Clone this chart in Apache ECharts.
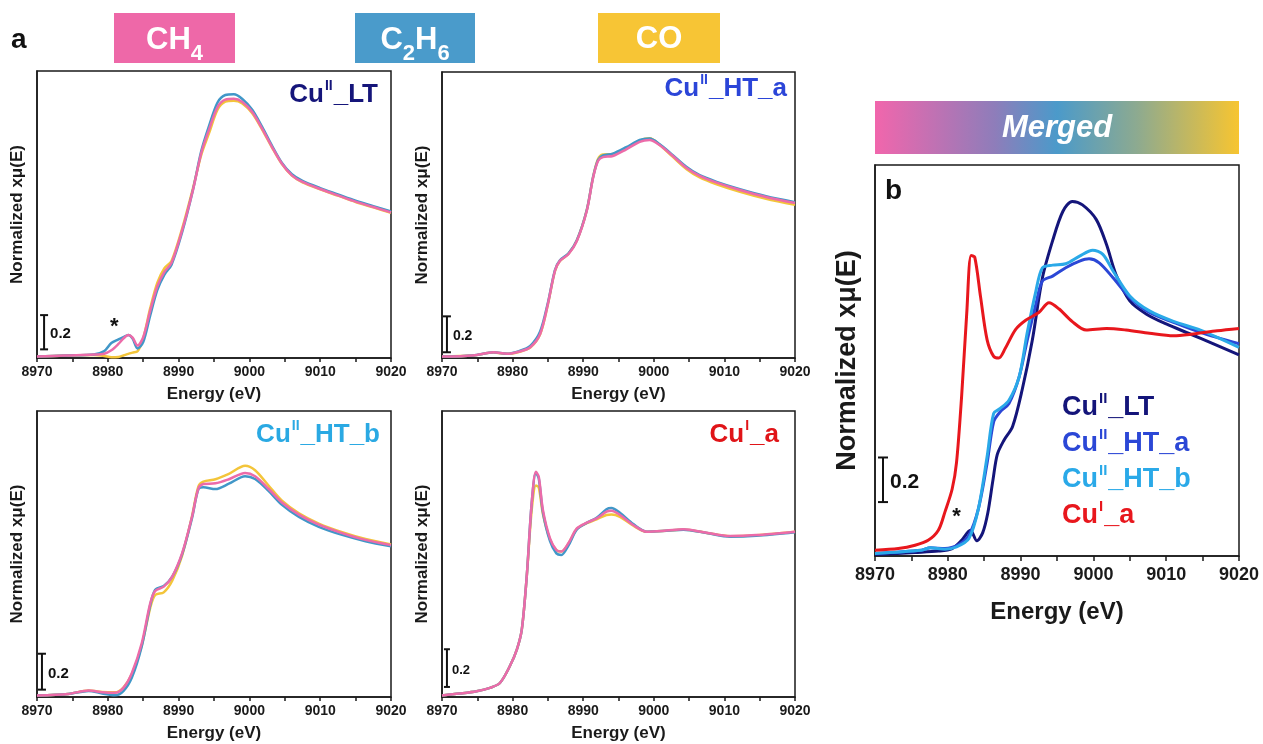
<!DOCTYPE html>
<html><head><meta charset="utf-8">
<script src="https://cdn.jsdelivr.net/npm/echarts@6/dist/echarts.min.js"></script>
<style>html,body{margin:0;padding:0;background:#fff}#c{width:1263px;height:744px}</style>
</head><body><div id="c"></div>
<script>
// ---------- DATA ----------
const E_MIN = 8970, E_MAX = 9020;
// Panel 1: Cu(II)_LT
const E1 = [8970, 8974, 8978, 8979.5, 8980.5, 8981.5, 8982.2, 8982.9, 8983.5, 8984.2, 8985, 8986, 8987, 8988, 8989, 8990.5, 8992, 8993.2, 8994.3, 8995.5, 8996.6, 8997.8, 8999, 9000.4, 9001.8, 9003.2, 9004.6, 9006, 9007.5, 9010, 9012.5, 9015, 9017.5, 9020];
const CH4_1 = [0.0, 0.006, 0.011, 0.016, 0.035, 0.07, 0.1, 0.12, 0.105, 0.061, 0.107, 0.256, 0.39, 0.47, 0.52, 0.70, 0.92, 1.13, 1.26, 1.385, 1.426, 1.431, 1.413, 1.357, 1.265, 1.163, 1.07, 1.006, 0.969, 0.93, 0.895, 0.86, 0.83, 0.80];
const C2H6_1 = [0.0, 0.006, 0.011, 0.03, 0.075, 0.095, 0.108, 0.12, 0.1, 0.045, 0.08, 0.23, 0.37, 0.455, 0.51, 0.69, 0.92, 1.14, 1.28, 1.41, 1.452, 1.456, 1.43, 1.37, 1.275, 1.17, 1.075, 1.012, 0.975, 0.935, 0.9, 0.865, 0.835, 0.805];
const CO_1 = [0.0, 0.006, 0.008, 0.003, -0.004, -0.002, 0.006, 0.015, 0.022, 0.03, 0.1, 0.27, 0.41, 0.49, 0.53, 0.71, 0.93, 1.12, 1.24, 1.37, 1.415, 1.42, 1.405, 1.35, 1.26, 1.16, 1.068, 1.004, 0.967, 0.928, 0.893, 0.858, 0.828, 0.798];
// Panel 2: Cu(II)_HT_a
const E2 = [8970, 8974.4, 8977.3, 8979.2, 8981, 8982.5, 8983.9, 8985, 8986, 8986.7, 8987.9, 8989.1, 8990.5, 8991.4, 8992.1, 8992.8, 8994.2, 8996.1, 8998, 8999.4, 9000.8, 9002.7, 9004.6, 9006.5, 9008.9, 9012.2, 9015.9, 9020];
const CH4_2 = [0, 0.006, 0.024, 0.015, 0.028, 0.052, 0.126, 0.293, 0.478, 0.533, 0.57, 0.644, 0.811, 0.996, 1.089, 1.111, 1.117, 1.154, 1.196, 1.206, 1.178, 1.117, 1.052, 1.006, 0.969, 0.928, 0.889, 0.855];
const C2H6_2 = [0, 0.006, 0.024, 0.016, 0.032, 0.06, 0.14, 0.30, 0.482, 0.536, 0.574, 0.648, 0.815, 1.0, 1.095, 1.12, 1.13, 1.166, 1.206, 1.214, 1.184, 1.122, 1.057, 1.01, 0.973, 0.932, 0.893, 0.86];
const CO_2 = [0, 0.006, 0.022, 0.015, 0.027, 0.05, 0.124, 0.29, 0.476, 0.532, 0.572, 0.646, 0.814, 1.0, 1.1, 1.125, 1.128, 1.16, 1.203, 1.216, 1.18, 1.112, 1.045, 0.998, 0.96, 0.918, 0.879, 0.845];
// Panel 3: Cu(II)_HT_b
const E3 = [8970, 8974.4, 8977.3, 8979.2, 8981, 8982.2, 8983.4, 8984.8, 8986, 8986.7, 8987.9, 8989.1, 8990.5, 8991.9, 8992.8, 8993.5, 8995.2, 8997.1, 8999.4, 9000.8, 9002.7, 9004.6, 9007, 9009.8, 9013.1, 9016.4, 9020];
const CH4_3 = [0, 0.009, 0.028, 0.019, 0.015, 0.043, 0.126, 0.293, 0.515, 0.583, 0.607, 0.663, 0.793, 0.996, 1.154, 1.178, 1.182, 1.205, 1.24, 1.222, 1.152, 1.075, 1.008, 0.952, 0.905, 0.867, 0.838];
const C2H6_3 = [0, 0.009, 0.026, 0.012, 0.002, 0.025, 0.1, 0.275, 0.505, 0.59, 0.61, 0.662, 0.788, 0.99, 1.15, 1.16, 1.15, 1.18, 1.222, 1.206, 1.14, 1.062, 0.995, 0.94, 0.895, 0.86, 0.832];
const CO_3 = [0, 0.009, 0.028, 0.02, 0.018, 0.045, 0.12, 0.28, 0.49, 0.56, 0.575, 0.64, 0.78, 1.0, 1.165, 1.192, 1.205, 1.235, 1.28, 1.255, 1.17, 1.085, 1.015, 0.958, 0.91, 0.872, 0.842];
// Panel 4: Cu(I)_a
const E4 = [8970, 8972.5, 8974.9, 8976.8, 8978.2, 8979.6, 8980.6, 8981.3, 8982, 8982.7, 8983.3, 8983.7, 8984.3, 8985.3, 8986.2, 8986.9, 8987.9, 8989.1, 8990.5, 8991.9, 8993.3, 8994, 8995.2, 8997.1, 8999, 9001.8, 9004.2, 9007.5, 9010.8, 9014.5, 9020];
const CH4_4 = [0, 0.011, 0.024, 0.043, 0.07, 0.163, 0.256, 0.367, 0.663, 1.07, 1.246, 1.22, 1.033, 0.876, 0.811, 0.802, 0.848, 0.931, 0.963, 0.987, 1.024, 1.03, 1.006, 0.95, 0.913, 0.919, 0.926, 0.907, 0.889, 0.894, 0.913];
const C2H6_4 = [0, 0.011, 0.024, 0.043, 0.07, 0.163, 0.256, 0.367, 0.663, 1.07, 1.24, 1.21, 1.02, 0.86, 0.792, 0.783, 0.835, 0.925, 0.962, 0.99, 1.038, 1.045, 1.018, 0.955, 0.913, 0.918, 0.924, 0.905, 0.885, 0.89, 0.91];
const CO_4 = [0, 0.011, 0.024, 0.043, 0.07, 0.163, 0.256, 0.367, 0.66, 1.03, 1.17, 1.16, 1.01, 0.87, 0.81, 0.802, 0.846, 0.928, 0.96, 0.982, 1.006, 1.008, 0.995, 0.946, 0.912, 0.918, 0.925, 0.906, 0.888, 0.893, 0.912];
// Panel b: merged
const E_LT = [8970, 8975.5, 8978.7, 8980.6, 8981.9, 8983.1, 8984.0, 8984.8, 8985.5, 8986.2, 8986.8, 8987.7, 8988.9, 8990.2, 8991.6, 8993.0, 8994.4, 8995.8, 8997.1, 8998.5, 9000.4, 9001.8, 9003.1, 9005.0, 9007.3, 9010.0, 9013.3, 9016.5, 9020];
const M_LT = [-0.009, 0.0, 0.006, 0.017, 0.052, 0.095, 0.05, 0.085, 0.17, 0.31, 0.42, 0.48, 0.54, 0.695, 0.908, 1.177, 1.336, 1.461, 1.504, 1.489, 1.426, 1.319, 1.191, 1.078, 1.021, 0.979, 0.936, 0.894, 0.847];
const E_HTA = [8970, 8976.4, 8977.6, 8979.6, 8981.5, 8982.9, 8984.2, 8985.4, 8986.3, 8987.2, 8988.4, 8989.8, 8990.9, 8992.1, 8993.0, 8994.4, 8996.2, 8998.1, 8999.4, 9000.8, 9002.7, 9005.0, 9007.7, 9011.0, 9014.7, 9020];
const M_HTA = [-0.004, 0.01, 0.02, 0.017, 0.034, 0.074, 0.187, 0.383, 0.56, 0.603, 0.638, 0.752, 0.908, 1.064, 1.163, 1.184, 1.22, 1.248, 1.258, 1.241, 1.177, 1.092, 1.028, 0.986, 0.943, 0.894];
const E_HTB = [8970, 8976.4, 8977.6, 8979.6, 8981.2, 8982.9, 8984.2, 8985.4, 8986.3, 8987.2, 8988.4, 8989.8, 8990.9, 8992.1, 8993.0, 8994.4, 8996.2, 8998.1, 8999.9, 9001.3, 9002.7, 9005.0, 9007.7, 9011.0, 9014.7, 9020];
const M_HTB = [-0.004, 0.01, 0.02, 0.014, 0.024, 0.06, 0.187, 0.411, 0.596, 0.617, 0.652, 0.752, 0.94, 1.12, 1.22, 1.231, 1.237, 1.27, 1.295, 1.277, 1.206, 1.099, 1.035, 0.99, 0.953, 0.879];
const E_CUI = [8970, 8973.2, 8975.5, 8977.3, 8978.7, 8979.6, 8980.6, 8981.2, 8981.9, 8982.6, 8983.2, 8983.7, 8984.5, 8985.4, 8986.3, 8987, 8987.9, 8989.3, 8990.7, 8992.5, 8993.9, 8995.3, 8997.1, 8999, 9001.8, 9004.5, 9007.7, 9011, 9013.7, 9017, 9020];
const M_CUI = [0.01, 0.017, 0.031, 0.052, 0.095, 0.173, 0.272, 0.386, 0.67, 1.024, 1.272, 1.265, 1.095, 0.911, 0.84, 0.833, 0.875, 0.955, 0.995, 1.028, 1.07, 1.043, 0.989, 0.953, 0.96, 0.953, 0.939, 0.928, 0.936, 0.95, 0.96];
// scale bars [energy, y0, y1] and asterisk marks [energy, y]
const BAR1 = [8971.0, 0.04, 0.23], BAR2 = [8970.7, 0.024, 0.224], BAR3 = [8970.7, 0.033, 0.233], BAR4 = [8970.7, 0.048, 0.258], BAR5 = [8971.1, 0.216, 0.407];
const STAR1 = [8980.9, 0.163], STAR5 = [8981.2, 0.152];

// ---------- STYLE ----------
const F = '"Liberation Sans", Arial, sans-serif';
const PINK = '#EC6BA9', BLUE = '#4197C8', YELLOW = '#F3C53A';
const C_LT = '#14157A', C_HTA = '#2B47D6', C_HTB = '#2AA9E8', C_CUI = '#E8171D';
const grids = [
  {left: 37, top: 71, width: 354, height: 287},
  {left: 442, top: 72, width: 353, height: 286},
  {left: 37, top: 411, width: 354, height: 286},
  {left: 442, top: 411, width: 353, height: 286},
  {left: 875, top: 165, width: 364, height: 391}
].map(g => Object.assign(g, {show: true, borderColor: '#1a1a1a', borderWidth: 1.5, backgroundColor: 'transparent'}));

function xAx(i, big) {
  return {gridIndex: i, type: 'value', min: E_MIN, max: E_MAX, interval: 5,
    name: 'Energy (eV)', nameLocation: 'middle', nameGap: big ? 44 : 28,
    nameTextStyle: {fontFamily: F, fontWeight: 'bold', fontSize: big ? 24 : 17, color: '#1a1a1a'},
    axisLine: {onZero: false, lineStyle: {color: '#1a1a1a', width: 1.5}},
    axisTick: {inside: false, length: big ? 5 : 4, lineStyle: {color: '#1a1a1a', width: 1.5}},
    axisLabel: {margin: big ? 10 : 7, fontFamily: F, fontWeight: 'bold', fontSize: big ? 18 : 14, color: '#1a1a1a',
      formatter: v => (v % 10 === 0 ? String(v) : '')},
    splitLine: {show: false}};
}
function yAx(i, big) {
  return {gridIndex: i, type: 'value', min: big ? -0.015 : -0.008, max: big ? 1.66 : 1.585,
    name: 'Normalized xμ(E)', nameLocation: 'middle', nameGap: big ? 14 : 11, nameRotate: 90,
    nameTextStyle: {fontFamily: F, fontWeight: 'bold', fontSize: big ? 27 : 17, color: '#1a1a1a'},
    axisLine: {onZero: false, lineStyle: {color: '#1a1a1a', width: 1.5}},
    axisTick: {show: false}, axisLabel: {show: false}, splitLine: {show: false}};
}
function zip(xs, ys) { return xs.map((x, i) => [x, ys[i]]); }
function line(g, xs, ys, color, w) {
  return {type: 'line', xAxisIndex: g, yAxisIndex: g, data: zip(xs, ys), symbol: 'none', showSymbol: false,
    smooth: 0.3, lineStyle: {color: color, width: w}, silent: true, animation: false, z: 3};
}
function scaleBar(g, bar, fs, cap) {
  return {type: 'custom', xAxisIndex: g, yAxisIndex: g, data: [bar], silent: true, animation: false, z: 5,
    renderItem: (p, api) => {
      const a = api.coord([api.value(0), api.value(1)]);
      const b = api.coord([api.value(0), api.value(2)]);
      const st = {stroke: '#111', lineWidth: 2};
      return {type: 'group', children: [
        {type: 'line', shape: {x1: a[0], y1: a[1], x2: b[0], y2: b[1]}, style: st},
        {type: 'line', shape: {x1: a[0] - cap, y1: a[1], x2: a[0] + cap, y2: a[1]}, style: st},
        {type: 'line', shape: {x1: b[0] - cap, y1: b[1], x2: b[0] + cap, y2: b[1]}, style: st},
        {type: 'text', x: a[0] + cap + 2, y: (a[1] + b[1]) / 2 + 2,
          style: {text: '0.2', font: 'bold ' + fs + 'px ' + F, fill: '#111', align: 'left', verticalAlign: 'middle'}}
      ]};
    }};
}
function star(g, pt, fs) {
  return {type: 'custom', xAxisIndex: g, yAxisIndex: g, data: [pt], silent: true, animation: false, z: 5,
    renderItem: (p, api) => {
      const a = api.coord([api.value(0), api.value(1)]);
      return {type: 'text', x: a[0], y: a[1],
        style: {text: '*', font: 'bold ' + fs + 'px ' + F, fill: '#111', align: 'center', verticalAlign: 'middle'}};
    }};
}
function cuLabel(x, y, sup, rest, color, fs, align) {
  return {type: 'text', x: x, y: y, z: 10, silent: true,
    style: {text: '{m|Cu}{s|' + sup + '}{m|' + rest + '}', align: align, verticalAlign: 'middle',
      rich: {m: {font: 'bold ' + fs + 'px ' + F, fill: color, lineHeight: fs * 1.2},
             s: {font: 'bold ' + Math.round(fs * 0.55) + 'px ' + F, fill: color, verticalAlign: 'top', lineHeight: fs * 1.2, padding: [0, 1, 0, 1]}}}};
}
function box(x, y, w, h, fill) {
  return {type: 'rect', shape: {x: x, y: y, width: w, height: h}, style: {fill: fill}, silent: true, z: 1};
}
function head(cx, cy, main, sub) {
  const t = sub ? main.replace(/(\d)/g, '{s|$1}').replace(/^([^{]+)/, '{m|$1}').replace(/\}([A-Za-z]+)/g, '}{m|$1}') : '{m|' + main + '}';
  return {type: 'text', x: cx, y: sub ? cy + 6 : cy, z: 2, silent: true,
    style: {text: t, align: 'center', verticalAlign: 'middle',
      rich: {m: {font: 'bold 31px ' + F, fill: '#fff', lineHeight: 28, verticalAlign: 'top'},
             s: {font: 'bold 22px ' + F, fill: '#fff', verticalAlign: 'bottom', lineHeight: 40}}}};
}

const series = [
  line(0, E1, CO_1, YELLOW, 2.5), line(0, E1, C2H6_1, BLUE, 2.5), line(0, E1, CH4_1, PINK, 2.5),
  line(1, E2, CO_2, YELLOW, 2.5), line(1, E2, C2H6_2, BLUE, 2.5), line(1, E2, CH4_2, PINK, 2.5),
  line(2, E3, CO_3, YELLOW, 2.5), line(2, E3, C2H6_3, BLUE, 2.5), line(2, E3, CH4_3, PINK, 2.5),
  line(3, E4, CO_4, YELLOW, 2.5), line(3, E4, C2H6_4, BLUE, 2.5), line(3, E4, CH4_4, PINK, 2.5),
  line(4, E_LT, M_LT, C_LT, 3), line(4, E_HTA, M_HTA, C_HTA, 3), line(4, E_HTB, M_HTB, C_HTB, 3), line(4, E_CUI, M_CUI, C_CUI, 3),
  scaleBar(0, BAR1, 15, 4), scaleBar(1, BAR2, 14, 4), scaleBar(2, BAR3, 15, 4), scaleBar(3, BAR4, 13, 3), scaleBar(4, BAR5, 21, 5),
  star(0, STAR1, 22), star(4, STAR5, 22)
];

const graphic = [
  box(114, 13, 121, 50, '#EE68A8'), box(355, 13, 120, 50, '#4A9BCB'), box(598, 13, 122, 50, '#F7C535'),
  head(174.5, 39, 'CH4', true), head(415, 39, 'C2H6', true), head(659, 38, 'CO', false),
  {type: 'rect', shape: {x: 875, y: 101, width: 364, height: 53}, silent: true, z: 1,
    style: {fill: new echarts.graphic.LinearGradient(0, 0, 1, 0, [
      {offset: 0, color: '#F166AC'}, {offset: 0.33, color: '#8E7DBA'}, {offset: 0.5, color: '#4B9ACA'},
      {offset: 0.72, color: '#8DAA90'}, {offset: 1, color: '#F7C531'}])}},
  {type: 'text', x: 1057, y: 128, z: 2, silent: true,
    style: {text: 'Merged', font: 'italic bold 31px ' + F, fill: '#fff', align: 'center', verticalAlign: 'middle'}},
  {type: 'text', x: 11, y: 40, z: 2, silent: true, style: {text: 'a', font: 'bold 28px ' + F, fill: '#111', align: 'left', verticalAlign: 'middle'}},
  {type: 'text', x: 885, y: 191, z: 10, silent: true, style: {text: 'b', font: 'bold 28px ' + F, fill: '#111', align: 'left', verticalAlign: 'middle'}},
  cuLabel(378, 95, 'II', '_LT', '#15157A', 26, 'right'),
  cuLabel(787, 89, 'II', '_HT_a', '#2B45D8', 26, 'right'),
  cuLabel(380, 435, 'II', '_HT_b', '#2AA9E3', 26, 'right'),
  cuLabel(779, 435, 'I', '_a', '#E01418', 26, 'right'),
  cuLabel(1062, 408, 'II', '_LT', C_LT, 27, 'left'),
  cuLabel(1062, 444, 'II', '_HT_a', C_HTA, 27, 'left'),
  cuLabel(1062, 480, 'II', '_HT_b', C_HTB, 27, 'left'),
  cuLabel(1062, 516, 'I', '_a', C_CUI, 27, 'left')
];

const chart = echarts.init(document.getElementById('c'), null, {renderer: 'canvas'});
chart.setOption({
  animation: false,
  backgroundColor: '#fff',
  grid: grids,
  xAxis: [0, 1, 2, 3, 4].map(i => xAx(i, i === 4)),
  yAxis: [0, 1, 2, 3, 4].map(i => yAx(i, i === 4)),
  series: series,
  graphic: graphic
});
</script></body></html>
